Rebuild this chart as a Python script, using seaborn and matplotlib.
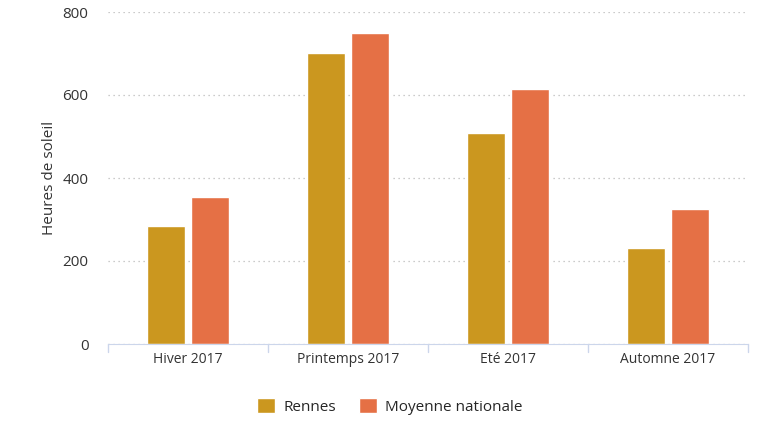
import matplotlib.pyplot as plt
import seaborn as sns
import pandas as pd

seasons = ["Hiver 2017", "Printemps 2017", "Eté 2017", "Automne 2017"]
rennes = [284, 701, 508, 231]
nationale = [354, 749, 614, 325]
series = ["Rennes", "Moyenne nationale"]

df = pd.DataFrame({
    "saison": seasons * 2,
    "heures": rennes + nationale,
    "serie": [series[0]] * 4 + [series[1]] * 4,
})

sns.set_style("white")
plt.rcParams['font.family'] = ['Open Sans', 'DejaVu Sans']

fig = plt.figure(figsize=(7.73, 4.45), dpi=100)
ax = fig.add_axes([108 / 773, 1 - 344 / 445, 640 / 773, 332 / 445])
sns.barplot(data=df, x="saison", y="heures", hue="serie",
            palette=["#E8A202", "#FF642B"], width=0.56, gap=0.15, ax=ax)

ax.set_ylim(0, 800)
ax.set_xlim(-0.5, 3.5)
ax.set_yticks([0, 200, 400, 600, 800])
ax.yaxis.grid(True, linestyle=(0, (1, 3)), color="#bbbbbb", linewidth=0.9)
ax.set_axisbelow(True)
for s in ["top", "right", "left"]:
    ax.spines[s].set_visible(False)
ax.spines["bottom"].set_color("#ccd6eb")
ax.set_xlabel("")
ax.set_ylabel("Heures de soleil", fontsize=11, color="#333333")
ax.tick_params(axis="y", length=0, labelsize=11, labelcolor="#333333", pad=14)
ax.tick_params(axis="x", length=0, labelsize=10, labelcolor="#333333", pad=6)
for xb in [-0.5, 0.5, 1.5, 2.5, 3.5]:
    ax.plot([xb, xb], [0, -0.025], transform=ax.get_xaxis_transform(),
            color="#ccd6eb", lw=1, clip_on=False)

ax.legend(loc="upper center", bbox_to_anchor=(0.44, -0.12), ncol=2,
          frameon=False, fontsize=11, handlelength=1.2, handleheight=1.2,
          columnspacing=1.5, handletextpad=0.5)

fig.savefig("out.png", dpi=100)
